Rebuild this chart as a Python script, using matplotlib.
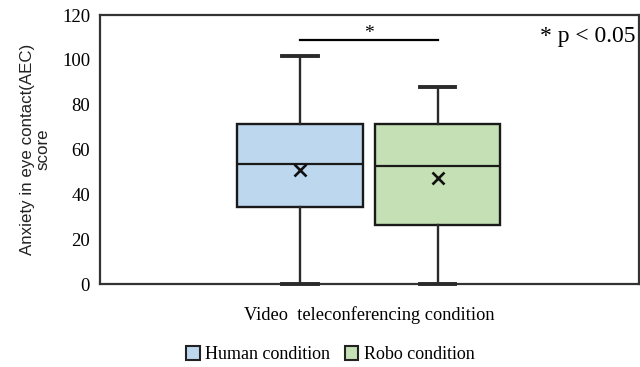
import matplotlib.pyplot as plt
import matplotlib.patches as mpatch
import numpy as np

conditions = ["Human condition", "Robo condition"]
whislo = [0, 0]
q1 = [34.5, 26.4]
med = [53.6, 52.5]
q3 = [71.2, 71.6]
whishi = [101.8, 88.0]
means = [51.0, 47.5]
colors = ["#bdd7ee", "#c5e0b4"]

plt.rcParams["font.family"] = "Liberation Serif"

fig = plt.figure(figsize=(6.4, 3.67), dpi=100)
ax = fig.add_axes([0.156, 0.226, 0.842, 0.733])

stats = []
for i in range(len(conditions)):
    stats.append(dict(whislo=whislo[i], q1=q1[i], med=med[i], q3=q3[i],
                      whishi=whishi[i], mean=means[i], fliers=[], label=conditions[i]))

pos = [1, 2]
bp = ax.bxp(stats, positions=pos, widths=0.913, patch_artist=True, showmeans=True,
            showfliers=False,
            boxprops=dict(lw=1.7, edgecolor="#1a1a1a"),
            medianprops=dict(color="#1a1a1a", lw=1.6),
            whiskerprops=dict(color="#2a2a2a", lw=1.7),
            capprops=dict(color="#2a2a2a", lw=2.8),
            meanprops=dict(marker="x", markeredgecolor="#111111", markersize=8.5, markeredgewidth=1.9),
            capwidths=0.26)
for p, c in zip(bp["boxes"], colors):
    p.set_facecolor(c)
for cap in bp["caps"]:
    cap.set_clip_on(False)
    cap.set_zorder(4)

# significance bar
ax.plot(pos, [108.8, 108.8], color="black", lw=1.6)
ax.text(1.5, 109.6, "*", ha="center", va="baseline", fontsize=14)
ax.text(3.44, 108, "* p < 0.05", ha="right", va="baseline", fontsize=17)

ax.set_xlim(-0.45, 3.46)
ax.set_ylim(0, 120)
ax.set_yticks(np.arange(0, 121, 20))
ax.set_xticks([])
ax.tick_params(axis="y", length=0, pad=7, labelsize=13.5)
for s in ax.spines.values():
    s.set_linewidth(1.6)
    s.set_color("#333333")

ax.set_ylabel("Anxiety in eye contact(AEC)\nscore", fontsize=12.2, family="Liberation Sans",
              linespacing=1.1, color="#222222")
ax.yaxis.set_label_coords(-0.091, 0.5)
ax.set_xlabel("Video  teleconferencing condition", fontsize=13.2, va="center")
ax.xaxis.set_label_coords(0.5, -0.115)

handles = [mpatch.Patch(facecolor=c, edgecolor="#222222", lw=1.5, label=l)
           for c, l in zip(colors, conditions)]
fig.legend(handles=handles, loc="center", bbox_to_anchor=(0.516, 0.033), ncols=2,
           frameon=False, fontsize=13, handlelength=0.75, handleheight=0.75,
           handletextpad=0.3, columnspacing=0.8)

fig.savefig("out.png", dpi=100)
